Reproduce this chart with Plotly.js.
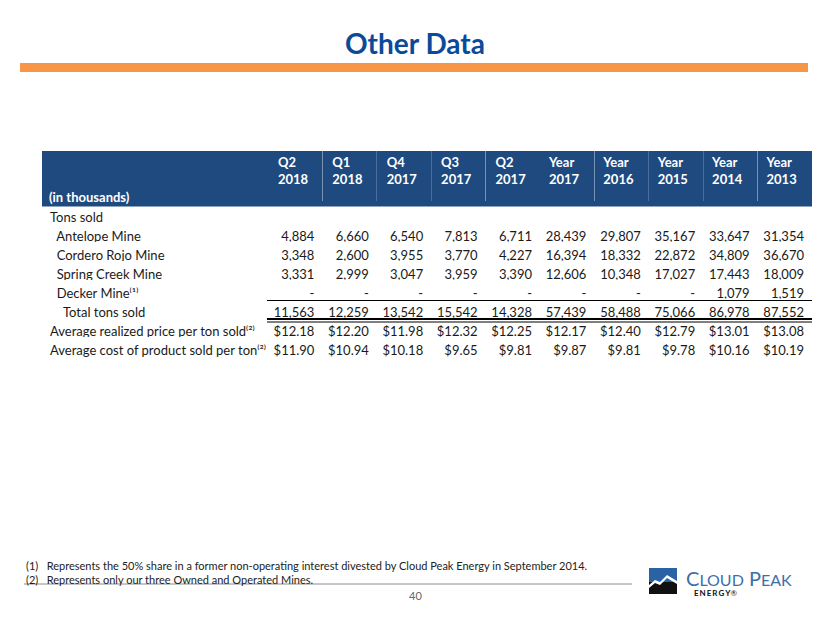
<!DOCTYPE html>
<html>
<head>
<meta charset="utf-8">
<script src="https://cdn.plot.ly/plotly-3.0.1.min.js"></script>
<style>html,body{margin:0;padding:0;background:#fff;}#chart{width:830px;height:623px;}</style>
</head>
<body>
<div id="chart"></div>
<script>
// ---- data ----
const periodLabels = ["Q2<br>2018","Q1<br>2018","Q4<br>2017","Q3<br>2017","Q2<br>2017","Year<br>2017","Year<br>2016","Year<br>2015","Year<br>2014","Year<br>2013"];
const unitsLabel = "(in thousands)";
const rowLabels = [
  "Tons sold",
  "\u00a0\u00a0Antelope Mine",
  "\u00a0\u00a0Cordero Rojo Mine",
  "\u00a0\u00a0Spring Creek Mine",
  "\u00a0\u00a0Decker Mine\u207d\u00b9\u207e",
  "\u00a0\u00a0\u00a0\u00a0Total tons sold",
  "Average realized price per ton sold\u207d\u00b2\u207e",
  "Average cost of product sold per ton\u207d\u00b2\u207e"
];
const antelope    = ["4,884","6,660","6,540","7,813","6,711","28,439","29,807","35,167","33,647","31,354"];
const corderoRojo = ["3,348","2,600","3,955","3,770","4,227","16,394","18,332","22,872","34,809","36,670"];
const springCreek = ["3,331","2,999","3,047","3,959","3,390","12,606","10,348","17,027","17,443","18,009"];
const decker      = ["-","-","-","-","-","-","-","-","1,079","1,519"];
const totalTons   = ["11,563","12,259","13,542","15,542","14,328","57,439","58,488","75,066","86,978","87,552"];
const avgPrice    = ["$12.18","$12.20","$11.98","$12.32","$12.25","$12.17","$12.40","$12.79","$13.01","$13.08"];
const avgCost     = ["$11.90","$10.94","$10.18","$9.65","$9.81","$9.87","$9.81","$9.78","$10.16","$10.19"];
const footnotes = [
  "(1)\u00a0\u00a0\u00a0Represents the 50% share in a former non-operating interest divested by Cloud Peak Energy in September 2014.",
  "(2)\u00a0\u00a0\u00a0Represents only our three Owned and Operated Mines."
];

// ---- build table ----
const W = 830, H = 623;
const px = x => x / W;
const py = y => 1 - y / H;
const FONT = "Lato, 'Noto Sans', sans-serif";
const NB2 = "\u00a0\u00a0";

const headerValues = [""].concat(periodLabels.map(p => "<b>" + p.split("<br>").map(s => s + NB2).join("<br>") + "</b>"));
const columns = [rowLabels.map(s => s.replace(/ /g, "\u00a0"))];
for (let i = 0; i < periodLabels.length; i++) {
  columns.push(["", antelope[i], corderoRojo[i], springCreek[i], decker[i], totalTons[i], avgPrice[i], avgCost[i]]);
}
const aligns = ["left"].concat(periodLabels.map(() => "right"));
const widths = [226].concat(periodLabels.map(() => 54.4));

const HEADER_BLUE = "#1F4A80";
const trace = {
  type: "table",
  domain: {x: [px(42), px(812)], y: [py(420), py(146)]},
  columnwidth: widths,
  header: {
    values: headerValues,
    align: aligns,
    height: 58,
    fill: {color: HEADER_BLUE},
    line: {color: HEADER_BLUE, width: 0},
    font: {family: FONT, size: 13, color: "#ffffff"}
  },
  cells: {
    values: columns,
    align: aligns,
    height: 19,
    fill: {color: "#ffffff"},
    line: {color: "#ffffff", width: 0},
    font: {family: FONT, size: 13, color: "#1a1a1a"}
  }
};

const shapes = [
  // orange bar under title
  {type: "rect", xref: "paper", yref: "paper", x0: px(20), x1: px(808), y0: py(72), y1: py(63), fillcolor: "#F79646", line: {width: 0}},
  // header band trim (top) and exact bottom edge
  {type: "rect", xref: "paper", yref: "paper", layer: "above", x0: px(41), x1: px(813), y0: py(151), y1: py(145), fillcolor: "#ffffff", line: {width: 0}},
  {type: "rect", xref: "paper", yref: "paper", layer: "above", x0: px(42), x1: px(812), y0: py(206.5), y1: py(201), fillcolor: HEADER_BLUE, line: {width: 0}},
  // rule above total
  {type: "line", xref: "paper", yref: "paper", x0: px(267), x1: px(812), y0: py(300.5), y1: py(300.5), line: {color: "#000", width: 1}},
  // double rule below total
  {type: "line", xref: "paper", yref: "paper", x0: px(267), x1: px(812), y0: py(319), y1: py(319), line: {color: "#000", width: 2}},
  {type: "line", xref: "paper", yref: "paper", x0: px(267), x1: px(812), y0: py(322), y1: py(322), line: {color: "#000", width: 1}},
  // footnote rule
  {type: "line", xref: "paper", yref: "paper", x0: px(24), x1: px(632), y0: py(584), y1: py(584), line: {color: "#8c8c8c", width: 1}},
  // logo
  {type: "rect", xref: "paper", yref: "paper", x0: px(649), x1: px(677), y0: py(582), y1: py(568), fillcolor: "#2A62A6", line: {width: 0}},
  {type: "rect", xref: "paper", yref: "paper", x0: px(649), x1: px(677), y0: py(594), y1: py(582), fillcolor: "#111111", line: {width: 0}},
  {type: "path", xref: "paper", yref: "paper",
   path: "M " + px(649) + "," + py(585) + " L " + px(655) + "," + py(580) + " L " + px(660) + "," + py(582) + " L " + px(667) + "," + py(575) + " L " + px(677) + "," + py(581) +
         " L " + px(677) + "," + py(584) + " L " + px(667) + "," + py(578) + " L " + px(660) + "," + py(585) + " L " + px(655) + "," + py(583) + " L " + px(649) + "," + py(588) + " Z",
   fillcolor: "#ffffff", line: {width: 0}}
];

const annotations = [
  {xref: "paper", yref: "paper", x: px(47), y: py(197), xanchor: "left", yanchor: "middle", showarrow: false,
   text: "<b>" + unitsLabel + "</b>", font: {family: FONT, size: 13, color: "#ffffff"}},
  {xref: "paper", yref: "paper", x: px(24), y: py(565), xanchor: "left", yanchor: "middle", showarrow: false,
   text: footnotes[0], font: {family: FONT, size: 11, color: "#222"}},
  {xref: "paper", yref: "paper", x: px(24), y: py(579), xanchor: "left", yanchor: "middle", showarrow: false,
   text: footnotes[1], font: {family: FONT, size: 11, color: "#222"}},
  {xref: "paper", yref: "paper", x: px(415), y: py(595), xanchor: "center", yanchor: "middle", showarrow: false,
   text: "40", font: {family: FONT, size: 11, color: "#666"}},
  {xref: "paper", yref: "paper", x: px(684), y: py(578), xanchor: "left", yanchor: "middle", showarrow: false,
   text: "C<span style=\"font-size:16px\">LOUD</span> P<span style=\"font-size:16px\">EAK</span>", font: {family: FONT, size: 20, color: "#3C6FA8"}},
  {xref: "paper", yref: "paper", x: px(692), y: py(593), xanchor: "left", yanchor: "middle", showarrow: false,
   text: "<b>E\u2009N\u2009E\u2009R\u2009G\u2009Y</b>\u00ae", font: {family: FONT, size: 8, color: "#111"}}
];

const layout = {
  width: W, height: H,
  margin: {l: 0, r: 0, t: 0, b: 0},
  paper_bgcolor: "#ffffff",
  title: {text: "<b>Other Data</b>", x: 0.5, xanchor: "center", y: py(44), yanchor: "middle", yref: "paper",
          font: {family: FONT, size: 28, color: "#0B4A9A"}},
  shapes: shapes,
  annotations: annotations,
  showlegend: false
};

Plotly.newPlot("chart", [trace], layout, {displayModeBar: false, staticPlot: true});
</script>
</body>
</html>
